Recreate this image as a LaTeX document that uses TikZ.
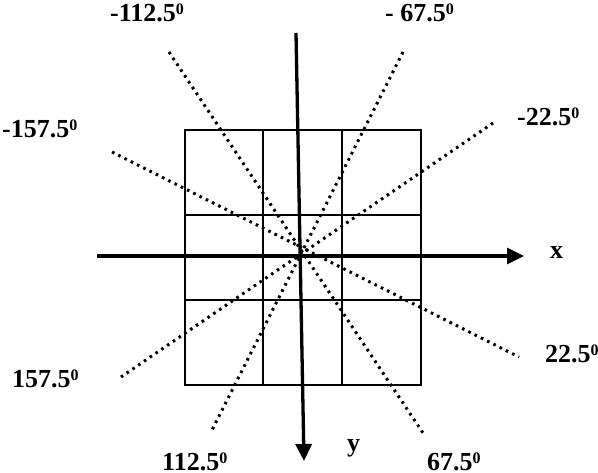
\documentclass[tikz,border=0pt]{standalone}
\usepackage{fontspec}
\setmainfont{Liberation Serif}
\usetikzlibrary{arrows.meta}
\newcommand\degz{\raisebox{6.5pt}{\fontsize{16}{16}\selectfont 0}}
\begin{document}
\begin{tikzpicture}[x=1pt,y=-1pt,
  grid/.style={line width=2pt},
  axis/.style={line width=3.3pt,-{Triangle[length=17pt,width=16pt]}},
  dots/.style={line width=3pt,dash pattern=on 2.6pt off 4.4pt},
  lab/.style={anchor=base west,inner sep=0pt,font=\fontsize{26}{30}\selectfont\bfseries}]
\useasboundingbox (0,0) rectangle (598,472);
% grid
\draw[grid] (185,130) rectangle (421,385);
\draw[grid] (263,130) -- (263,385);
\draw[grid] (342,130) -- (342,385);
\draw[grid] (185,215) -- (421,215);
\draw[grid] (185,300) -- (421,300);
% dotted direction lines
\coordinate (a1) at (112,152); \coordinate (a2) at (519,357);
\coordinate (b1) at (169,52);  \coordinate (b2) at (423,433);
\coordinate (c1) at (403,52);  \coordinate (c2) at (211,432);
\coordinate (d1) at (493,123); \coordinate (d2) at (121,377);
\draw[dots] (a1) -- (a2);
\draw[dots] (b1) -- (b2);
\draw[dots] (c1) -- (c2);
\draw[dots] (d1) -- (d2);
% axes
\coordinate (xs) at (97,256); \coordinate (xe) at (524,256);
\coordinate (ys) at (296,33); \coordinate (ye) at (304,461);
\draw[axis] (xs) -- (xe);
\draw[axis] (ys) -- (ye);
% labels
\node[lab] (l1) at (110,21) {-112.5\degz};
\node[lab] (l2) at (385,21) {- 67.5\degz};
\node[lab] (l3) at (2,137) {-157.5\degz};
\node[lab] (l4) at (517,125) {-22.5\degz};
\node[lab] (lx) at (550,258) {x};
\node[lab] (l5) at (545,362) {22.5\degz};
\node[lab] (l6) at (12,387) {157.5\degz};
\node[lab] (l7) at (162,470) {112.5\degz};
\node[lab] (l8) at (427,470) {67.5\degz};
\node[lab] (ly) at (347,451) {y};
\end{tikzpicture}
\end{document}
